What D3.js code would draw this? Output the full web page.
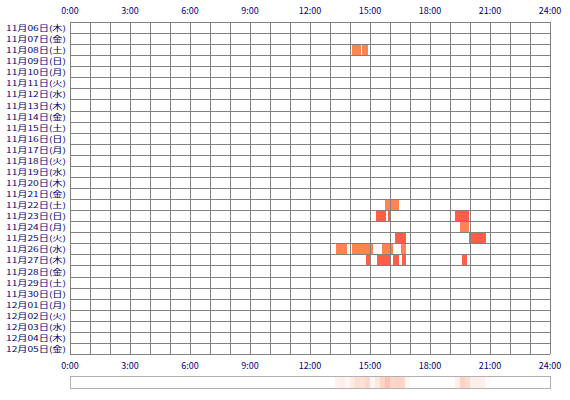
<!DOCTYPE html><html><head><meta charset="utf-8"><script src="https://cdn.jsdelivr.net/npm/d3@7"></script>
<style>body{margin:0;background:#fff}text{font-family:"Noto Sans CJK JP",sans-serif;font-size:10px;fill:#000080}</style></head><body><svg width="570" height="400"></svg><script>
const days=["11月06日(木)","11月07日(金)","11月08日(土)","11月09日(日)","11月10日(月)","11月11日(火)","11月12日(水)","11月13日(木)","11月14日(金)","11月15日(土)","11月16日(日)","11月17日(月)","11月18日(火)","11月19日(水)","11月20日(木)","11月21日(金)","11月22日(土)","11月23日(日)","11月24日(月)","11月25日(火)","11月26日(水)","11月27日(木)","11月28日(金)","11月29日(土)","11月30日(日)","12月01日(月)","12月02日(火)","12月03日(水)","12月04日(木)","12月05日(金)"];
const tickLabels=["0:00","3:00","6:00","9:00","12:00","15:00","18:00","21:00","24:00"];
const segDay=[2,2,16,17,17,17,18,19,19,20,20,20,20,21,21,21,21,21];
const segStart=[14.1,14.6,15.75,15.3,15.9,19.25,19.5,16.25,19.95,13.3,14.1,15.6,16.55,14.8,15.35,16.15,16.6,19.6];
const segEnd=[14.55,14.9,16.45,15.8,16.05,19.95,19.95,16.8,20.8,13.85,15.15,16.15,16.8,15.0,16.05,16.45,16.8,19.85];
const segShade=[0,0,0,1,1,1,0,1,1,0,0,0,0,1,1,1,1,1];
const svg=d3.select("svg");
const x=d3.scaleLinear().domain([0,24]).range([70,550]);
const y=d3.scaleBand().domain(days).range([22,354]);
svg.selectAll("rect.s").data(segDay).join("rect")
 .attr("x",(d,i)=>x(segStart[i])).attr("width",(d,i)=>x(segEnd[i])-x(segStart[i]))
 .attr("y",d=>y(days[d])).attr("height",y.bandwidth())
 .attr("fill",(d,i)=>segShade[i]?"#ff5e46":"#ff8450");
const g=svg.append("g").attr("stroke","#808080").attr("stroke-width",1);
d3.range(0,25).forEach(h=>g.append("line").attr("x1",Math.round(x(h))+.5).attr("x2",Math.round(x(h))+.5).attr("y1",22).attr("y2",354));
days.concat([null]).forEach((d,i)=>{const yy=Math.round(22+i*y.step())+.5;g.append("line").attr("x1",70).attr("x2",550).attr("y1",yy).attr("y2",yy);});
svg.selectAll("text.d").data(days).join("text").attr("x",66).attr("y",d=>y(d)+y.bandwidth()/2+3.5).attr("text-anchor","end")
 .style("font-size","7.5px").attr("textLength",60).attr("lengthAdjust","spacingAndGlyphs").text(d=>d);
const ticks=d3.range(0,25,3);
[14,369].forEach(ty=>svg.selectAll(null).data(ticks).join("text").attr("x",t=>x(t)).attr("y",ty).attr("text-anchor","middle").style("font-size","9px").text((t,i)=>tickLabels[i]));
const bins=d3.range(0,96).map(b=>{const a=b/4,c=a+.25;let s=0;segStart.forEach((s0,i)=>{s+=Math.max(0,Math.min(c,segEnd[i])-Math.max(a,s0));});return s*4;});
svg.selectAll("rect.h").data(bins).join("rect").attr("x",(d,b)=>x(b/4)).attr("width",x(.25)-x(0)).attr("y",377).attr("height",11)
 .attr("fill","#ff7048").attr("opacity",d=>Math.min(.5,d*.12));
svg.append("rect").attr("x",70.5).attr("y",376.5).attr("width",480).attr("height",12).attr("fill","none").attr("stroke","#b0b0b0");
</script></body></html>
